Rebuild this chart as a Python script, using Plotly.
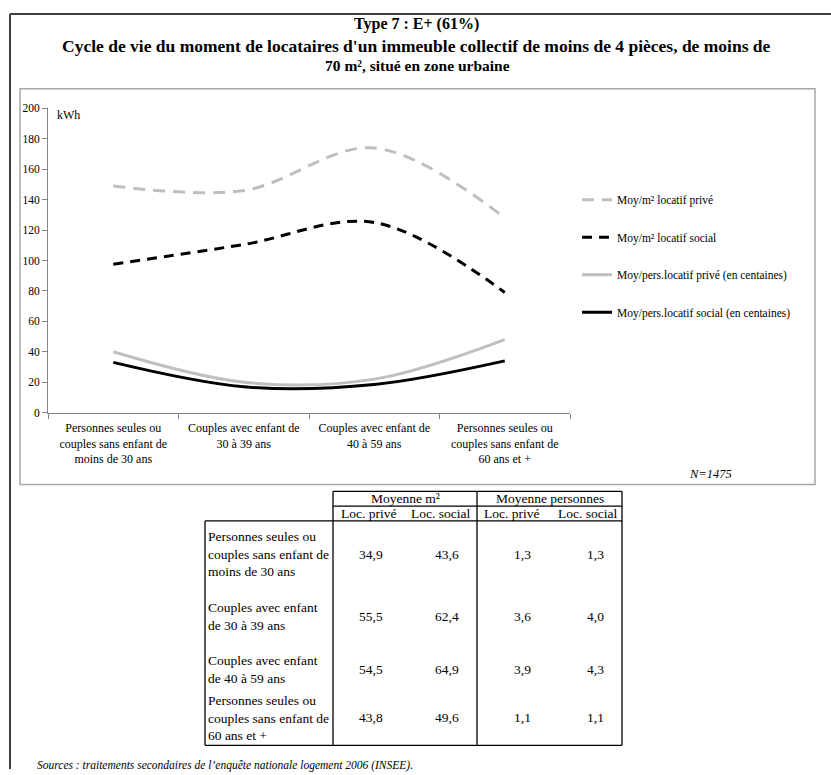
import plotly.graph_objects as go

# ---------------- data ----------------
categories = [
    "Personnes seules ou<br>couples sans enfant de<br>moins de 30 ans",
    "Couples avec enfant de<br>30 à 39 ans",
    "Couples avec enfant de<br>40 à 59 ans",
    "Personnes seules ou<br>couples sans enfant de<br>60 ans et +",
]
series_names = [
    "Moy/m² locatif privé",
    "Moy/m² locatif social",
    "Moy/pers.locatif privé (en centaines)",
    "Moy/pers.locatif social (en centaines)",
]
prive_m2 = [149, 146, 174, 128]
social_m2 = [97.5, 110.5, 125, 79]
prive_pers = [40, 20, 22, 48]
social_pers = [33, 17, 18.5, 34]
y_ticks = [0, 20, 40, 60, 80, 100, 120, 140, 160, 180, 200]

table_rows = [
    "Personnes seules ou<br>couples sans enfant de<br>moins de 30 ans",
    "Couples avec enfant<br>de 30 à 39 ans",
    "Couples avec enfant<br>de 40 à 59 ans",
    "Personnes seules ou<br>couples sans enfant de<br>60 ans et +",
]
table_groups = ["Moyenne m²", "Moyenne personnes"]
table_subheads = ["Loc. privé", "Loc. social", "Loc. privé", "Loc. social"]
m2_prive = ["34,9", "55,5", "54,5", "43,8"]
m2_social = ["43,6", "62,4", "64,9", "49,6"]
pers_prive = ["1,3", "3,6", "3,9", "1,1"]
pers_social = ["1,3", "4,0", "4,3", "1,1"]

# ---------------- layout helpers ----------------
W, H = 831, 775
FONT = "Liberation Serif, Times New Roman, serif"


def px(x):
    return x / W


def py(y):
    return 1 - y / H


fig = go.Figure()

styles = [
    dict(color="#BFBFBF", width=3, dash="12px,8px"),
    dict(color="#000000", width=3, dash="10px,7px"),
    dict(color="#BFBFBF", width=3),
    dict(color="#000000", width=3),
]
for i, (name, vals) in enumerate(zip(series_names, [prive_m2, social_m2, prive_pers, social_pers])):
    fig.add_trace(go.Scatter(
        x=categories, y=vals, name=name, mode="lines",
        line=dict(shape="spline", smoothing=1.0, **styles[i]),
        legendgroup=f"g{i}", hoverinfo="skip",
    ))

shapes = []
annotations = []

# page frame
shapes.append(dict(type="line", xref="paper", yref="paper", x0=px(10), x1=px(831), y0=py(8), y1=py(8),
                   line=dict(color="#404040", width=2)))
shapes.append(dict(type="line", xref="paper", yref="paper", x0=px(10), x1=px(10), y0=py(8), y1=py(775),
                   line=dict(color="#404040", width=2)))
# chart box
shapes.append(dict(type="rect", xref="paper", yref="paper", x0=px(20), x1=px(815), y0=py(84), y1=py(486),
                   line=dict(color="#A6A6A6", width=1.5)))

# titles
annotations.append(dict(text="<b>Type 7 : E+ (61%)</b>", x=px(416), y=py(18), xref="paper", yref="paper",
                        showarrow=False, font=dict(family=FONT, size=16, color="black"), yanchor="middle"))
annotations.append(dict(text="<b>Cycle de vie du moment de locataires d'un immeuble collectif de moins de 4 pièces, de moins de</b>",
                        x=px(416), y=py(41), xref="paper", yref="paper", showarrow=False,
                        font=dict(family=FONT, size=17.5, color="black"), yanchor="middle"))
annotations.append(dict(text="<b>70 m², situé en zone urbaine</b>",
                        x=px(417), y=py(60.5), xref="paper", yref="paper", showarrow=False,
                        font=dict(family=FONT, size=15.5, color="black"), yanchor="middle"))
annotations.append(dict(text="kWh", x=px(55), y=py(111), xref="paper", yref="paper", showarrow=False,
                        xanchor="left", yanchor="middle", font=dict(family=FONT, size=12, color="black")))
annotations.append(dict(text="<i>N=1475</i>", x=px(710), y=py(475), xref="paper", yref="paper", showarrow=False,
                        xanchor="center", yanchor="middle", font=dict(family=FONT, size=12.5, color="black")))
annotations.append(dict(text="<i>Sources : traitements secondaires de l’enquête nationale logement 2006 (INSEE).</i>",
                        x=px(35), y=py(771), xref="paper", yref="paper", showarrow=False,
                        xanchor="left", yanchor="middle", font=dict(family=FONT, size=11.5, color="black")))

# ---------------- table ----------------
tl, tc1, tc3, tr = 205, 333, 477, 622
t_top, t_mid, t_body, t_bot = 493, 508, 523, 751
lw = 1.3


def hline(x0, x1, y):
    shapes.append(dict(type="line", xref="paper", yref="paper", x0=px(x0), x1=px(x1), y0=py(y), y1=py(y),
                       line=dict(color="black", width=lw)))


def vline(x, y0, y1):
    shapes.append(dict(type="line", xref="paper", yref="paper", x0=px(x), x1=px(x), y0=py(y0), y1=py(y1),
                       line=dict(color="black", width=lw)))


hline(tc1, tr, t_top)
hline(tc1, tr, t_mid)
hline(tl, tr, t_body)
hline(tl, tr, t_bot)
vline(tc1, t_top, t_bot)
vline(tc3, t_top, t_bot)
vline(tr, t_top, t_bot)
vline(tl, t_body, t_bot)

tfont = dict(family=FONT, size=13.5, color="black")
group_centers = [(tc1 + tc3) / 2, (tc3 + tr) / 2]
for g, cx in zip(table_groups, group_centers):
    annotations.append(dict(text=g, x=px(cx), y=py(500.5), xref="paper", yref="paper", showarrow=False,
                            xanchor="center", yanchor="middle", font=tfont))
sub_centers = [368, 440, 511, 587]
for s, cx in zip(table_subheads, sub_centers):
    annotations.append(dict(text=s, x=px(cx), y=py(515.5), xref="paper", yref="paper", showarrow=False,
                            xanchor="center", yanchor="middle", font=tfont))

row_centers = [557, 620, 674, 723]
col_right = [385, 461, 533, 606]
for r, (lab, yc) in enumerate(zip(table_rows, row_centers)):
    annotations.append(dict(text=lab, x=px(tl + 1), y=py(yc), xref="paper", yref="paper", showarrow=False,
                            xanchor="left", yanchor="middle", align="left", font=tfont))
    for c, col in enumerate([m2_prive, m2_social, pers_prive, pers_social]):
        annotations.append(dict(text=col[r], x=px(col_right[c]), y=py(yc), xref="paper", yref="paper",
                                showarrow=False, xanchor="right", yanchor="middle", font=tfont))

axis_col = "#868686"
fig.update_layout(
    width=W, height=H,
    margin=dict(l=0, r=0, t=0, b=0),
    paper_bgcolor="white", plot_bgcolor="white",
    font=dict(family=FONT, color="black"),
    showlegend=True,
    legend=dict(x=px(577), y=py(182), xanchor="left", yanchor="top",
                traceorder="grouped", tracegroupgap=18.5,
                font=dict(family=FONT, size=11.5, color="black"),
                bgcolor="rgba(0,0,0,0)", itemwidth=30),
    xaxis=dict(domain=[px(48), px(570)], type="category", range=[-0.5, 3.5],
               showline=True, linecolor=axis_col, linewidth=1,
               ticks="outside", tickson="boundaries", ticklen=5, tickcolor=axis_col,
               ticklabelstandoff=4,
               showgrid=False, zeroline=False,
               tickfont=dict(family=FONT, size=12, color="black")),
    yaxis=dict(domain=[py(413), py(104)], range=[0, 200], tickvals=y_ticks,
               showline=True, linecolor=axis_col, linewidth=1,
               ticks="outside", ticklen=5, tickcolor=axis_col,
               showgrid=False, zeroline=False,
               tickfont=dict(family=FONT, size=11.5, color="black")),
    shapes=shapes,
    annotations=annotations,
)

post = ("document.documentElement.style.overflow='hidden';"
        "document.body.style.margin='0';document.body.style.padding='0';"
        "document.body.style.overflow='hidden';"
        "var g=document.querySelector('.plotly-graph-div');"
        "if(g)g.style.overflow='hidden';"
        "var c=document.querySelector('.svg-container');"
        "if(c)c.style.display='block';")

fig.write_html("out.html", config={"displayModeBar": False}, post_script=post)
